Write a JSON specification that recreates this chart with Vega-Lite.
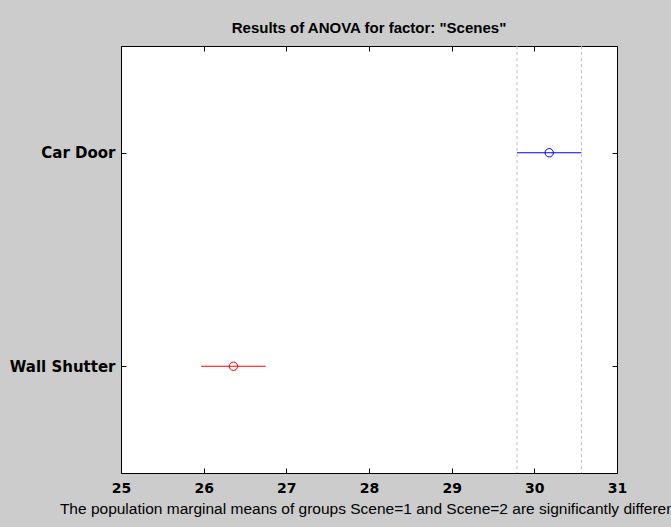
{
  "$schema": "https://vega.github.io/schema/vega-lite/v6.json",
  "width": 496,
  "height": 427,
  "autosize": {"type": "none"},
  "padding": {"left": 121, "top": 46, "right": 54, "bottom": 54},
  "background": "#cccccc",
  "config": {
    "view": {"fill": "white", "stroke": "black", "strokeWidth": 1},
    "axis": {"grid": false, "domain": false, "tickColor": "black", "tickSize": -5, "tickWidth": 1}
  },
  "title": {
    "text": "Results of ANOVA for factor: \"Scenes\"",
    "font": "Liberation Sans",
    "fontSize": 15,
    "fontWeight": "bold",
    "color": "black",
    "anchor": "middle",
    "offset": 10
  },
  "datasets": {
    "refs": [{"x": 29.79}, {"x": 30.57}],
    "means": [
      {"group": "Car Door", "mean": 30.18, "lo": 29.79, "hi": 30.57},
      {"group": "Wall Shutter", "mean": 26.36, "lo": 25.97, "hi": 26.75}
    ]
  },
  "resolve": {"axis": {"x": "independent", "y": "independent"}},
  "layer": [
    {
      "data": {"name": "refs"},
      "mark": {"type": "rule", "color": "#bdbdbd", "strokeDash": [3, 3], "strokeWidth": 1},
      "encoding": {
        "x": {
          "field": "x", "type": "quantitative",
          "scale": {"domain": [25, 31], "nice": false, "zero": false},
          "axis": {
            "orient": "bottom", "values": [25, 26, 27, 28, 29, 30, 31], "format": "d",
            "labelFont": "DejaVu Sans", "labelFontWeight": "bold", "labelFontSize": 14, "labelColor": "black",
            "labelPadding": 13, "labelFlush": false,
            "title": "The population marginal means of groups Scene=1 and Scene=2 are significantly different",
            "titleFont": "Liberation Sans", "titleFontSize": 15.5, "titleFontWeight": "normal", "titleColor": "black",
            "titlePadding": 6, "titleLimit": 2000
          }
        }
      }
    },
    {
      "data": {"name": "means"},
      "mark": {"type": "rule", "strokeWidth": 1},
      "encoding": {
        "x": {
          "field": "lo", "type": "quantitative",
          "scale": {"domain": [25, 31], "nice": false, "zero": false},
          "axis": {"orient": "top", "values": [25, 26, 27, 28, 29, 30, 31], "labels": false, "title": null}
        },
        "x2": {"field": "hi"},
        "y": {
          "field": "group", "type": "nominal",
          "sort": ["Car Door", "Wall Shutter"],
          "scale": {"type": "point", "padding": 0.5},
          "axis": {
            "orient": "left", "title": null,
            "labelFont": "DejaVu Sans", "labelFontWeight": "bold", "labelFontSize": 15, "labelColor": "black",
            "labelPadding": 11
          }
        },
        "color": {
          "field": "group", "type": "nominal",
          "scale": {"domain": ["Car Door", "Wall Shutter"], "range": ["#0000ff", "#ff0000"]},
          "legend": null
        }
      }
    },
    {
      "data": {"name": "means"},
      "mark": {"type": "point", "shape": "circle", "filled": false, "size": 70, "strokeWidth": 1, "opacity": 1},
      "encoding": {
        "x": {"field": "mean", "type": "quantitative", "scale": {"domain": [25, 31], "nice": false, "zero": false}, "axis": null},
        "y": {
          "field": "group", "type": "nominal",
          "sort": ["Car Door", "Wall Shutter"],
          "scale": {"type": "point", "padding": 0.5},
          "axis": {"orient": "right", "labels": false, "title": null}
        },
        "color": {
          "field": "group", "type": "nominal",
          "scale": {"domain": ["Car Door", "Wall Shutter"], "range": ["#0000ff", "#ff0000"]},
          "legend": null
        }
      }
    }
  ]
}
